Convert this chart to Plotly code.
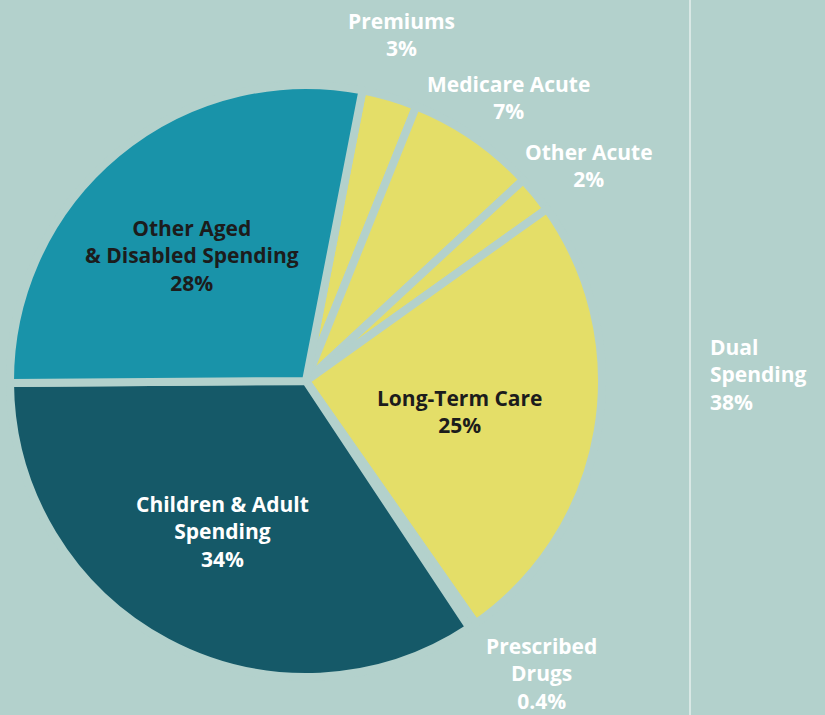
import plotly.graph_objects as go

# Spending shares (percent of total)
categories = ["Premiums", "Medicare Acute", "Other Acute", "Long-Term Care",
              "Prescribed Drugs", "Children & Adult Spending",
              "Other Aged & Disabled Spending"]
shares = [3, 7, 2, 25, 0.4, 34, 28]
share_labels = ["3%", "7%", "2%", "25%", "0.4%", "34%", "28%"]
dual_label = "Dual Spending"
dual_share_label = "38%"

BG = "#b3d1cc"
TEAL = "#1993a9"
DARK_TEAL = "#155968"
YELLOW = "#e4de68"
slice_colors = [YELLOW, YELLOW, YELLOW, YELLOW, YELLOW, DARK_TEAL, TEAL]

W, H = 825, 715
cx, cy, r = 306, 381, 296  # pie centre / outer radius in pixels (incl. gap stroke)

fig = go.Figure(go.Pie(
    labels=categories,
    values=shares,
    sort=False,
    direction="clockwise",
    rotation=11,
    marker=dict(colors=slice_colors, line=dict(color=BG, width=8)),
    textinfo="none",
    hoverinfo="skip",
    showlegend=False,
    domain=dict(x=[(cx - r) / W, (cx + r) / W],
                y=[(H - cy - r) / H, (H - cy + r) / H]),
))

# label lines per slice, and where each label block sits (centre x, centre y, colour)
label_lines = {
    "Premiums": ["Premiums"],
    "Medicare Acute": ["Medicare Acute"],
    "Other Acute": ["Other Acute"],
    "Long-Term Care": ["Long-Term Care"],
    "Prescribed Drugs": ["Prescribed", "Drugs"],
    "Children & Adult Spending": ["Children & Adult", "Spending"],
    "Other Aged & Disabled Spending": ["Other Aged", "& Disabled Spending"],
}
label_pos = {
    "Premiums": (401, 34.5, "white"),
    "Medicare Acute": (508, 97, "white"),
    "Other Acute": (589, 165.5, "white"),
    "Long-Term Care": (459, 411, "#1c1c1c"),
    "Prescribed Drugs": (541, 673, "white"),
    "Children & Adult Spending": (222, 531.5, "white"),
    "Other Aged & Disabled Spending": (192, 255.5, "#1c1c1c"),
}

FONT = "Open Sans"
SIZE = 21

annotations = []


def add_block(lines, x, y, color, anchor="center"):
    annotations.append(dict(
        text="<b>" + "<br>".join(lines) + "</b>", x=x / W, y=1 - y / H,
        xref="paper", yref="paper", xanchor=anchor, yanchor="middle",
        align=anchor, showarrow=False, borderpad=0,
        font=dict(family=FONT, size=SIZE, color=color),
    ))


for cat, pct in zip(categories, share_labels):
    x, y, col = label_pos[cat]
    add_block(label_lines[cat] + [pct], x, y, col)

add_block(dual_label.split(" ") + [dual_share_label], 709, 374, "white", anchor="left")

fig.update_layout(
    width=W, height=H,
    margin=dict(l=0, r=0, t=0, b=0),
    paper_bgcolor=BG, plot_bgcolor=BG,
    annotations=annotations,
    shapes=[dict(type="line", xref="paper", yref="paper",
                 x0=690 / W, x1=690 / W, y0=0, y1=1,
                 line=dict(color="#d9e8e5", width=2))],
)

fig.write_html("out.html")
